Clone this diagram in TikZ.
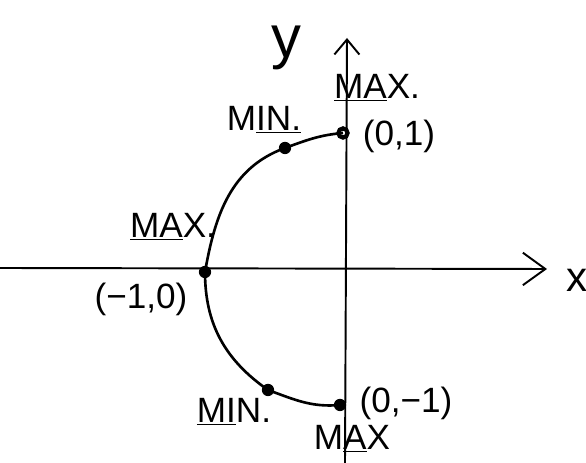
\documentclass[tikz,border=0pt]{standalone}
\usepackage{fontspec}
\setsansfont{Liberation Sans}
\usetikzlibrary{arrows.meta}

\tikzset{
  lbl/.style={font=\sffamily\fontsize{20}{24}\selectfont, inner sep=0pt},
  axis/.style={line width=1.1pt},
}

\begin{document}
\begin{tikzpicture}[x=0.02cm,y=0.02cm]
  \useasboundingbox (0,0) rectangle (586,463);
  \coordinate (xl) at (0,195);
  \coordinate (xr) at (547,194);
  \coordinate (yb) at (345,0);
  \coordinate (yt) at (347,425);
  \coordinate (A) at (343,330);
  \coordinate (B) at (285,315);
  \coordinate (C) at (205,191);
  \coordinate (D) at (268,73);
  \coordinate (E) at (340,58);
  \draw[axis,-{Straight Barb[length=0.45cm,width=0.65cm]}] (xl)--(xr);
  \draw[axis,-{Straight Barb[length=0.3cm,width=0.5cm]}] (yb)--(yt);
  \draw[line width=1.5pt] (A) to[out=185,in=20] (B) to[out=200,in=80] (C)
    to[out=-90,in=145] (D) to[out=-20,in=185] (E);
  \foreach \pt in {B,C,D,E}
    \fill (\pt) circle (3.5pt);
  \draw[line width=2.4pt] (A) circle (2.6pt);
  \node[lbl,font=\sffamily\fontsize{34}{38}\selectfont] (ylab) at (286,415) {y};
  \node[lbl,font=\sffamily\fontsize{24}{28}\selectfont] (xlab) at (577,183) {x};
  \node[lbl] (maxA) at (377,375) {\underline{MA}X.};
  \node[lbl] (ptA) at (399,327) {(0,1)};
  \node[lbl] (minB) at (264,343) {M\underline{IN.}};
  \node[lbl] (maxC) at (173,236) {\underline{MA}X.};
  \node[lbl] (ptC) at (141,164) {(−1,0)};
  \node[lbl] (minD) at (234,51) {\underline{MI}N.};
  \node[lbl] (ptE) at (406,60) {(0,−1)};
  \node[lbl] (maxE) at (352,24) {M\underline{A}X};
\end{tikzpicture}
\end{document}
